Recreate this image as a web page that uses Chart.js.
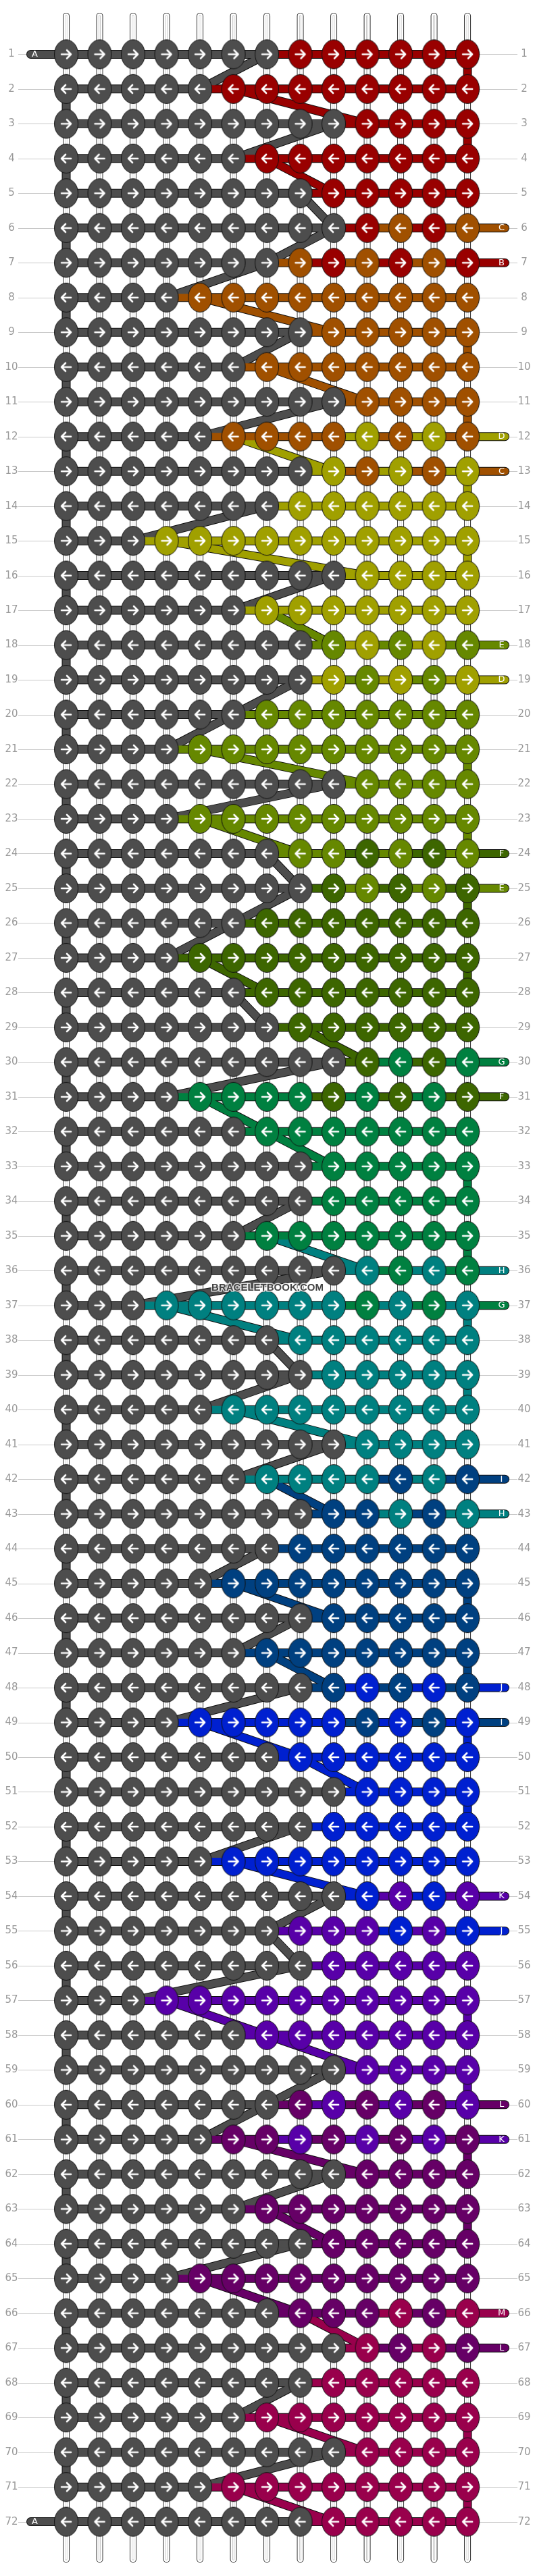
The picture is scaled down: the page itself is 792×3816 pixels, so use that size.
<!DOCTYPE html>
<html>
<head>
<meta charset="utf-8">
<script src="https://cdn.jsdelivr.net/npm/chart.js@4/dist/chart.umd.min.js"></script>
<style>
  body { margin: 0; background: #fff; }
  canvas { display: block; }
</style>
</head>
<body>
<canvas id="pattern" width="792" height="3816"></canvas>
<script>
// knot colours per row, left to right (13 knots)
const rowPatterns = [
  "GGGGGGGRRRRRR", "GGGGGRRRRRRRR", "GGGGGGGGGRRRR", "GGGGGGRRRRRRR",
  "GGGGGGGGRRRRR", "GGGGGGGGGRORO", "GGGGGGGORORОR".replace("О", "O"), "GGGGOOOOOOOOO",
  "GGGGGGGGOOOOO", "GGGGGGOOOOOOO", "GGGGGGGGGOOOO", "GGGGGOOOOYOYO",
  "GGGGGGGGYOYOY", "GGGGGGGYYYYYY", "GGGYYYYYYYYYY", "GGGGGGGGGYYYY",
  "GGGGGGYYYYYYY", "GGGGGGGGLYLYL", "GGGGGGGGYLYLY", "GGGGGGLLLLLLL",
  "GGGGLLLLLLLLL", "GGGGGGGGGLLLL", "GGGGLLLLLLLLL", "GGGGGGGLLDLDL",
  "GGGGGGGGDLDLD", "GGGGGGDDDDDDD", "GGGGDDDDDDDDD", "GGGGGGDDDDDDD",
  "GGGGGGGDDDDDD", "GGGGGGGGGDEDE", "GGGGEEEEDEDED", "GGGGGGEEEEEEE",
  "GGGGGGGGEEEEE", "GGGGGGGGEEEEE", "GGGGGGEEEEEEE", "GGGGGGGGGTETE",
  "GGGTTTTTTETET", "GGGGGGGTTTTTT", "GGGGGGGGTTTTT", "GGGGGTTTTTTTT",
  "GGGGGGGGGTTTT", "GGGGGGTTTTNTN", "GGGGGGGGNNTNT", "GGGGGGGNNNNNN",
  "GGGGGNNNNNNNN", "GGGGGGGGNNNNN", "GGGGGGNNNNNNN", "GGGGGGGGNBNBN",
  "GGGGBBBBBNBNB", "GGGGGGGBBBBBB", "GGGGGGGGGBBBB", "GGGGGGGGBBBBB",
  "GGGGGBBBBBBBB", "GGGGGGGGGBPBP", "GGGGGGGPPPBPB", "GGGGGGGGPPPPP",
  "GGGPPPPPPPPPP", "GGGGGGPPPPPPP", "GGGGGGGGGPPPP", "GGGGGGGMPMPMP",
  "GGGGGMMPMPMPM", "GGGGGGGGGMMMM", "GGGGGGMMMMMMM", "GGGGGGGGMMMMM",
  "GGGGMMMMMMMMM", "GGGGGGGMMMCMC", "GGGGGGGGGCMCM", "GGGGGGGGCCCCC",
  "GGGGGGCCCCCCC", "GGGGGGGGGCCCC", "GGGGGCCCCCCCC", "GGGGGGGGCCCCC"
];
const colourCodes = ["G", "R", "O", "Y", "L", "D", "E", "T", "N", "B", "P", "M", "C"];
const colourValues = ["#4d4d4d", "#990000", "#a05000", "#a0a000", "#668800", "#3d6600",
  "#008040", "#008080", "#004080", "#0020d0", "#5800a8", "#660066", "#99004c"];
const threadLetters = ["A", "B", "C", "D", "E", "F", "G", "H", "I", "J", "K", "L", "M"];
// thread ends leaving on the right: [row, colour code]
const rightEnds = [
  [6, "O"], [7, "R"], [12, "Y"], [13, "O"], [18, "L"], [19, "Y"], [24, "D"], [25, "L"],
  [30, "E"], [31, "D"], [36, "T"], [37, "E"], [42, "N"], [43, "T"], [48, "B"], [49, "N"],
  [54, "P"], [55, "B"], [60, "M"], [61, "P"], [66, "C"], [67, "M"]
];
const leftEnds = [[1, "G"], [72, "G"]];

const colOf = (code) => colourValues[colourCodes.indexOf(code)];
const nCols = 13, nRows = rowPatterns.length;
const RIGHT_END = 13.12, LEFT_END = -1.06;

// knot images
function knotImage(fill, right) {
  const c = document.createElement("canvas");
  c.width = 38; c.height = 46;
  const g = c.getContext("2d");
  g.beginPath();
  g.ellipse(19, 23, 17.5, 21.5, 0, 0, Math.PI * 2);
  g.fillStyle = fill; g.fill();
  g.lineWidth = 1; g.strokeStyle = "#111"; g.stroke();
  g.strokeStyle = "#fff"; g.lineWidth = 2.6; g.lineCap = "round"; g.lineJoin = "round";
  const d = right ? 1 : -1;
  g.beginPath();
  g.moveTo(19 - 7 * d, 23); g.lineTo(19 + 7 * d, 23);
  g.moveTo(19 + 1 * d, 17); g.lineTo(19 + 7 * d, 23); g.lineTo(19 + 1 * d, 29);
  g.stroke();
  return c;
}
const images = {};
colourCodes.forEach((k) => { images[k + "R"] = knotImage(colOf(k), true); images[k + "L"] = knotImage(colOf(k), false); });

const datasets = [];
function thread(pts, colour, segCols) {
  datasets.push({ type: "line", data: pts, borderColor: "#111", borderWidth: 13, pointRadius: 0,
    borderCapStyle: "round", order: 4 });
  const ds = { type: "line", data: pts, borderColor: colour, borderWidth: 11, pointRadius: 0,
    borderCapStyle: "round", order: 3 };
  if (segCols) ds.segment = { borderColor: (ctx) => segCols[ctx.p0DataIndex] };
  datasets.push(ds);
}

// strings
for (let c = 0; c < nCols; c++) {
  const pts = [{ x: c, y: -0.1 }, { x: c, y: 73.08 }];
  [["#333", 10], ["#fff", 8], ["#c8c8c8", 3], ["#fff", 1]].forEach(([col, w], i) => {
    datasets.push({ type: "line", data: pts, borderColor: col, borderWidth: w, borderCapStyle: "round",
      pointRadius: 0, order: 10 - i });
  });
}

// horizontal threads per row
for (let r = 0; r < nRows; r++) {
  const row = r + 1, pat = rowPatterns[r];
  const pts = [];
  const cols = [];
  const left = leftEnds.find((e) => e[0] === row);
  if (left) { pts.push({ x: LEFT_END, y: row }); cols.push(colOf(left[1])); }
  for (let c = 0; c < nCols; c++) {
    pts.push({ x: c, y: row });
    if (c < nCols - 1) {
      const a = pat[c], b = pat[c + 1];
      let k = a === b ? a : (a === "G" ? b : (b === "G" ? a : b));
      cols.push(colOf(k));
    }
  }
  const right = rightEnds.find((e) => e[0] === row);
  if (right) { pts.push({ x: RIGHT_END, y: row }); cols.push(colOf(right[1])); }
  thread(pts, colOf(pat[0]), cols);
}

// turning threads at the edges and diagonal threads at the colour boundary
const firstColoured = rowPatterns.map((p) => p.search(/[^G]/));
for (let r = 0; r < nRows - 1; r++) {
  const row = r + 1;
  if (row % 2 === 0) {
    thread([{ x: 0, y: row }, { x: 0, y: row + 1 }], colOf("G"));
  } else if (rowPatterns[r][12] === rowPatterns[r + 1][12]) {
    thread([{ x: 12, y: row }, { x: 12, y: row + 1 }], colOf(rowPatterns[r][12]));
  }
  const b0 = firstColoured[r], b1 = firstColoured[r + 1];
  if (b1 < b0 - 1) {
    thread([{ x: b0 - 1, y: row }, { x: b1 - 1, y: row + 1 }], colOf("G"));
  } else if (b1 > b0 + 1) {
    thread([{ x: b0, y: row }, { x: b1, y: row + 1 }], colOf(rowPatterns[r + 1][b1]));
  } else if (b1 === b0 + 1) {
    thread([{ x: b0 - 1, y: row }, { x: b1 - 1, y: row + 1 }], colOf("G"));
  }
}

// knots
const knots = [], knotStyles = [];
for (let r = 0; r < nRows; r++) {
  for (let c = 0; c < nCols; c++) {
    knots.push({ x: c, y: r + 1 });
    knotStyles.push(images[rowPatterns[r][c] + ((r + 1) % 2 === 1 ? "R" : "L")]);
  }
}
datasets.push({ type: "scatter", data: knots, pointStyle: knotStyles, pointRadius: 18, order: 0 });

const labelPlugin = {
  id: "rowLabels",
  afterDraw(chart) {
    const g = chart.ctx, xs = chart.scales.x, ys = chart.scales.y;
    g.save();
    g.font = "15px 'DejaVu Sans', sans-serif";
    g.textBaseline = "middle";
    for (let row = 1; row <= nRows; row++) {
      const y = ys.getPixelForValue(row);
      g.fillStyle = "#999";
      g.textAlign = "center";
      g.fillText(String(row), 17, y);
      g.fillText(String(row), 776, y);
    }
    g.font = "13px 'DejaVu Sans', sans-serif";
    g.fillStyle = "#fff";
    leftEnds.forEach(([row, k]) => {
      g.fillText(threadLetters[colourCodes.indexOf(k)], xs.getPixelForValue(LEFT_END) + 6, ys.getPixelForValue(row));
    });
    rightEnds.forEach(([row, k]) => {
      g.fillText(threadLetters[colourCodes.indexOf(k)], xs.getPixelForValue(RIGHT_END) - 5, ys.getPixelForValue(row));
    });
    g.font = "bold 15px 'Liberation Sans', sans-serif";
    g.textAlign = "center";
    g.lineWidth = 3; g.strokeStyle = "rgba(255,255,255,0.8)";
    g.strokeText("BRACELETBOOK.COM", 396, 1908);
    g.fillStyle = "#444";
    g.fillText("BRACELETBOOK.COM", 396, 1908);
    g.restore();
  },
  beforeDatasetsDraw(chart) {
    const g = chart.ctx, ys = chart.scales.y, xs = chart.scales.x;
    g.save();
    g.strokeStyle = "#c8c8c8"; g.lineWidth = 1;
    for (let row = 1; row <= nRows; row++) {
      const y = Math.round(ys.getPixelForValue(row)) + 0.5;
      g.beginPath();
      g.moveTo(27, y); g.lineTo(xs.getPixelForValue(0), y);
      g.moveTo(xs.getPixelForValue(12), y); g.lineTo(766, y);
      g.stroke();
    }
    g.restore();
  }
};

new Chart(document.getElementById("pattern").getContext("2d"), {
  type: "scatter",
  data: { datasets },
  options: {
    responsive: false,
    animation: false,
    devicePixelRatio: 1,
    layout: { padding: 0 },
    plugins: { legend: { display: false }, tooltip: { enabled: false } },
    scales: {
      x: { type: "linear", display: false, min: -83 / 52, max: (792 - 83) / 52 },
      y: { type: "linear", display: false, reverse: true, min: 1 - 62 / 52, max: 1 + (3816 - 62) / 52 }
    }
  },
  plugins: [labelPlugin]
});
</script>
</body>
</html>
